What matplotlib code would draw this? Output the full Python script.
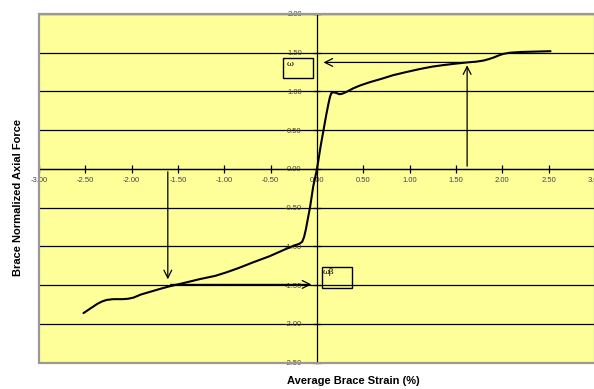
import matplotlib
matplotlib.use('Agg')
import matplotlib.pyplot as plt
from matplotlib.patches import Rectangle

# brace hysteresis curve (strain %, normalized force)
strain = [-2.52, -2.47, -2.42, -2.37, -2.32, -2.27, -2.20, -2.10, -2.04, -1.98,
          -1.90, -1.80, -1.70, -1.61, -1.45, -1.26, -1.10, -0.98, -0.85, -0.69,
          -0.51, -0.35, -0.25, -0.19, -0.16, -0.14, -0.12, -0.10, -0.076, -0.04,
          0.0, 0.04, 0.07, 0.10, 0.125, 0.14, 0.155, 0.18, 0.21, 0.24,
          0.27, 0.31, 0.39, 0.47, 0.57, 0.70, 0.82, 0.96, 1.11, 1.24,
          1.36, 1.50, 1.62, 1.72, 1.80, 1.86, 1.91, 1.96, 2.01, 2.08,
          2.20, 2.52]
force = [-1.86, -1.82, -1.78, -1.74, -1.71, -1.69, -1.68, -1.68, -1.675, -1.66,
         -1.62, -1.585, -1.55, -1.52, -1.475, -1.42, -1.38, -1.335, -1.28, -1.205,
         -1.125, -1.04, -0.99, -0.965, -0.94, -0.88, -0.78, -0.65, -0.50, -0.22,
         0.0, 0.30, 0.50, 0.70, 0.85, 0.93, 0.98, 0.99, 0.98, 0.965,
         0.97, 0.99, 1.04, 1.08, 1.12, 1.165, 1.21, 1.25, 1.29, 1.32,
         1.34, 1.36, 1.375, 1.385, 1.40, 1.42, 1.44, 1.465, 1.485, 1.50,
         1.51, 1.52]

# reference points marked with arrows
pos_strain, pos_force = 1.62, 1.375
neg_strain, neg_force = -1.61, -1.49
pos_label = 'ω'
neg_label = 'ωβ'

xticks = [-3.0, -2.5, -2.0, -1.5, -1.0, -0.5, 0.0, 0.5, 1.0, 1.5, 2.0, 2.5, 3.0]
yticks = [2.0, 1.5, 1.0, 0.5, 0.0, -0.5, -1.0, -1.5, -2.0, -2.5]

fig = plt.figure(figsize=(5.94, 3.89), dpi=100)
ax = fig.add_axes([39 / 594, 26.3 / 389, 556 / 594, 348.7 / 389])
ax.set_facecolor('#FFFF99')
ax.set_xlim(-3, 3)
ax.set_ylim(-2.5, 2.0)

for s in ['top', 'right']:
    ax.spines[s].set_visible(False)
ax.spines['left'].set_position('zero')
ax.spines['bottom'].set_position('zero')
ax.spines['left'].set_color('black')
ax.spines['bottom'].set_color('black')
ax.spines['left'].set_linewidth(0.9)
ax.spines['bottom'].set_linewidth(0.9)

ax.set_xticks(xticks)
ax.set_yticks(yticks)
ax.set_xticklabels(['%.2f' % v for v in xticks])
ax.set_yticklabels(['%.2f' % v for v in yticks])
ax.tick_params(direction='inout', length=6, width=0.9, labelsize=5.5,
               labelcolor='#444444', pad=3)
ax.tick_params(axis='y', pad=8)
for lab in ax.get_xticklabels() + ax.get_yticklabels():
    lab.set_family('Liberation Sans')

ax.yaxis.grid(True, color='black', lw=0.9)
ax.set_axisbelow(True)

ax.plot(strain, force, color='black', lw=1.5, zorder=4,
        solid_joinstyle='round', solid_capstyle='round')

arrow = dict(arrowstyle='->', color='black', lw=0.9, mutation_scale=14)
ax.annotate('', xy=(pos_strain, pos_force), xytext=(pos_strain, 0), arrowprops=arrow)
ax.annotate('', xy=(0.04, pos_force), xytext=(pos_strain, pos_force), arrowprops=arrow)
ax.annotate('', xy=(neg_strain, neg_force + 0.03), xytext=(neg_strain, 0), arrowprops=arrow)
ax.annotate('', xy=(-0.03, neg_force), xytext=(neg_strain, neg_force), arrowprops=arrow)

ax.add_patch(Rectangle((-0.364, 1.17), 0.324, 0.26, fill=False, ec='black', lw=1, zorder=5))
ax.text(-0.33, 1.40, pos_label, family='DejaVu Serif', fontsize=6, va='top', zorder=6)
ax.add_patch(Rectangle((0.057, -1.53), 0.323, 0.27, fill=False, ec='black', lw=1, zorder=5))
ax.text(0.065, -1.28, neg_label, family='DejaVu Serif', fontsize=6, va='top', zorder=6)

# grey frame around the plot area
ax.add_patch(Rectangle((0, 0), 1, 1, transform=ax.transAxes, fill=False,
                       ec='#999999', lw=1.6, clip_on=False, zorder=7))

fig.text(18 / 594, 1 - 197 / 389, 'Brace Normalized Axial Force', rotation=90,
         ha='center', va='center', fontsize=8, fontweight='bold', family='Liberation Sans')
fig.text(353 / 594, 1 - 381 / 389, 'Average Brace Strain (%)', ha='center', va='center',
         fontsize=8, fontweight='bold', family='Liberation Sans')

fig.savefig('out.png', dpi=100)
